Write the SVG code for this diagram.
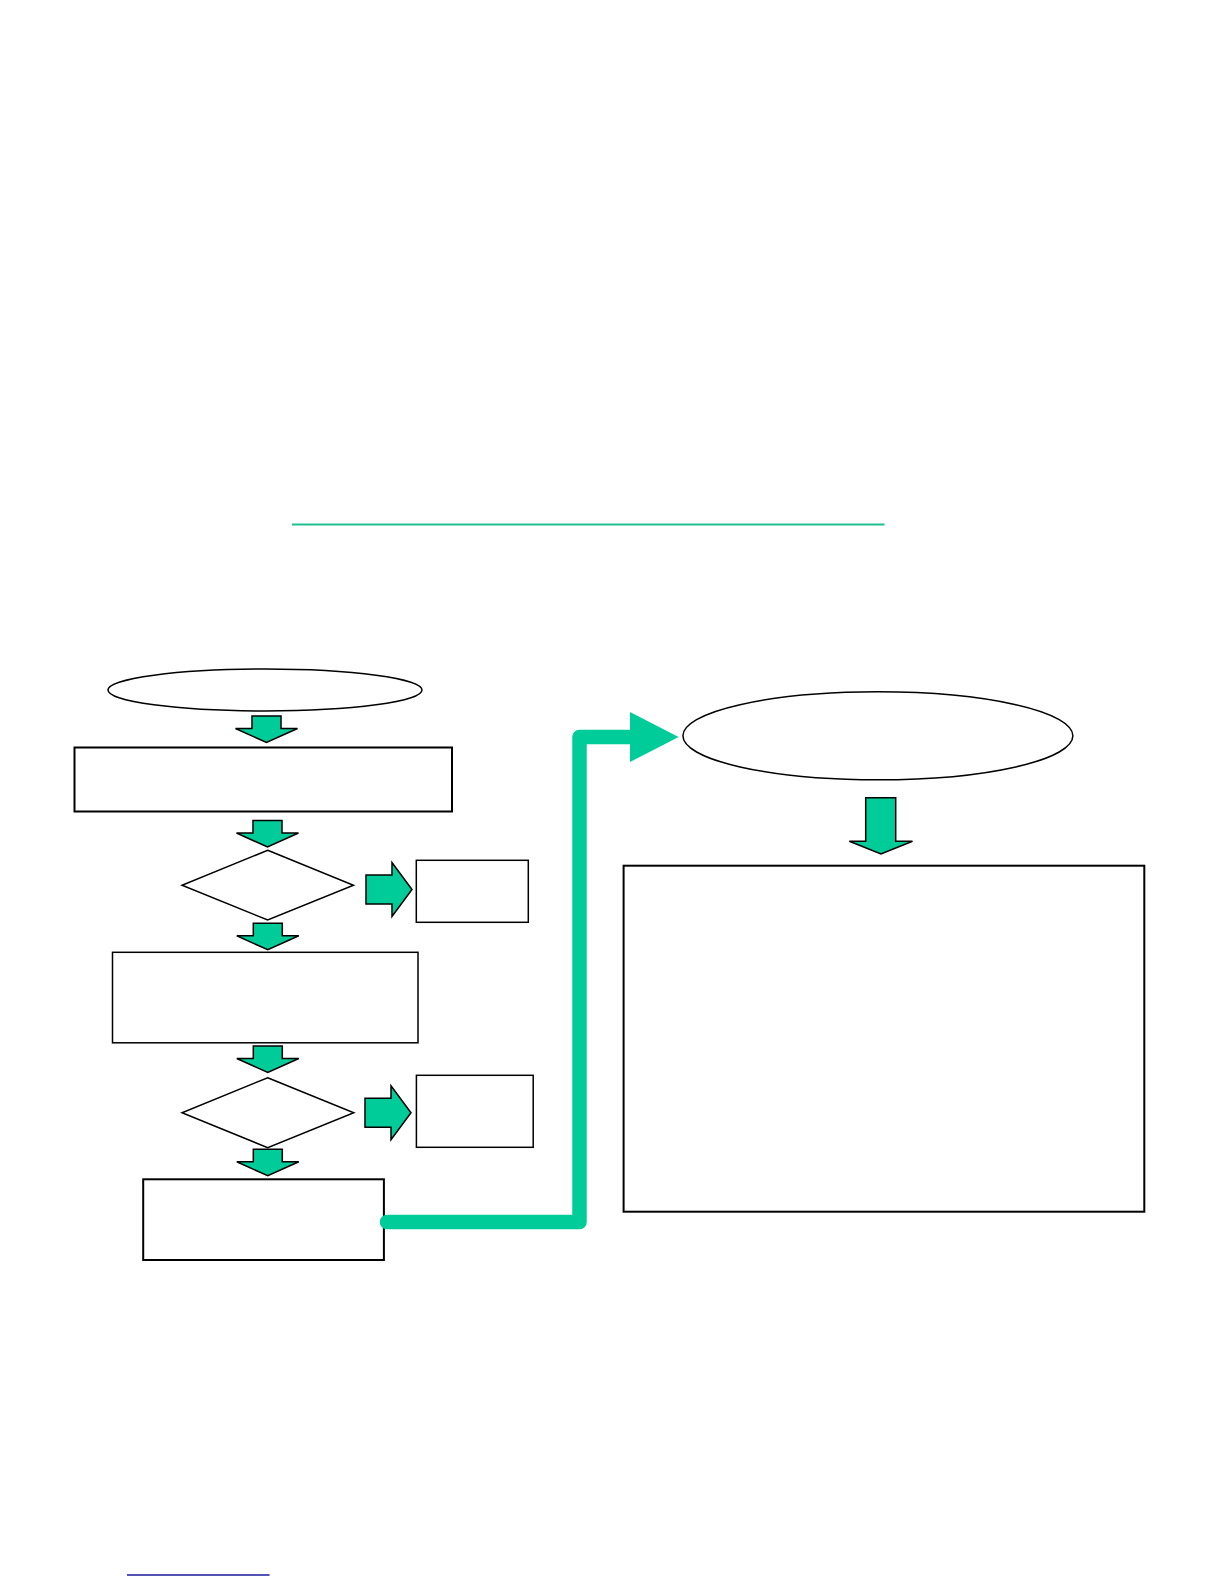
<svg xmlns="http://www.w3.org/2000/svg" xmlns:xlink="http://www.w3.org/1999/xlink" width="1224" height="1584" viewBox="0 0 1224 1584">
  <style>
    .box { fill: #ffffff; stroke: #000000; stroke-width: 2; }
    .thin { stroke-width: 1.5; }
    .arrow { fill: #00CC99; stroke: #000000; stroke-width: 1.5; stroke-linejoin: miter; }
    .conn { fill: none; stroke: #00CC99; stroke-width: 14.5; stroke-linejoin: round; stroke-linecap: round; }
  </style>
  <defs>
    <path id="downArrow" d="M-14.5,0 H14.5 V12.5 H31 L0,26.5 L-31,12.5 H-14.5 Z"/>
    <path id="rightArrow" d="M0,-14.5 H26 V-27 L46,0 L26,27 V14.5 H0 Z"/>
  </defs>
  <rect width="1224" height="1584" fill="#ffffff"/>

  <line x1="292" y1="524.5" x2="884.5" y2="524.5" stroke="#1fbf8f" stroke-width="2.2"/>
  <line x1="127" y1="1575" x2="269.5" y2="1575" stroke="#1a1a9a" stroke-width="1.3"/>

  <g id="start">
    <ellipse class="box thin" cx="265" cy="690" rx="157" ry="21"/>
  </g>
  <g id="step1">
    <rect class="box" x="74.5" y="747.5" width="377.5" height="64"/>
  </g>
  <g id="decision1">
    <polygon class="box thin" points="267.7,850.3 353.5,885.2 267.7,920 182,885.2"/>
  </g>
  <g id="side1">
    <rect class="box thin" x="416.3" y="860.3" width="112" height="62"/>
  </g>
  <g id="step2">
    <rect class="box thin" x="112.5" y="952.3" width="305.5" height="90.5"/>
  </g>
  <g id="decision2">
    <polygon class="box thin" points="267.7,1077.7 353.8,1112.7 267.7,1147.7 182,1112.7"/>
  </g>
  <g id="side2">
    <rect class="box thin" x="416.4" y="1075.3" width="116.8" height="72"/>
  </g>
  <g id="step3">
    <rect class="box" x="143.2" y="1179.3" width="240.7" height="80.7"/>
  </g>
  <g id="result">
    <ellipse class="box thin" cx="877.9" cy="735.8" rx="195" ry="44"/>
  </g>
  <g id="detail">
    <rect class="box" x="623.6" y="865.7" width="520.7" height="346" stroke-width="2.5"/>
  </g>

  <g id="connectors">
    <use xlink:href="#downArrow" class="arrow" transform="translate(266.5,716)"/>
    <use xlink:href="#downArrow" class="arrow" transform="translate(267.5,820.5)"/>
    <use xlink:href="#downArrow" class="arrow" transform="translate(267.8,923.3)"/>
    <use xlink:href="#downArrow" class="arrow" transform="translate(267.8,1046)"/>
    <use xlink:href="#downArrow" class="arrow" transform="translate(267.8,1149.3)"/>
    <use xlink:href="#rightArrow" class="arrow" transform="translate(366,889.5)"/>
    <use xlink:href="#rightArrow" class="arrow" transform="translate(365,1112.7)"/>
    <path class="arrow" d="M865.7,797.7 H895.7 V841.3 H912.5 L881,854 L849.3,841.3 H865.7 Z"/>
    <path class="conn" d="M387,1222 H579.5 V737 H632"/>
    <polygon fill="#00CC99" points="630,712 678.6,737 630,762"/>
  </g>
</svg>
